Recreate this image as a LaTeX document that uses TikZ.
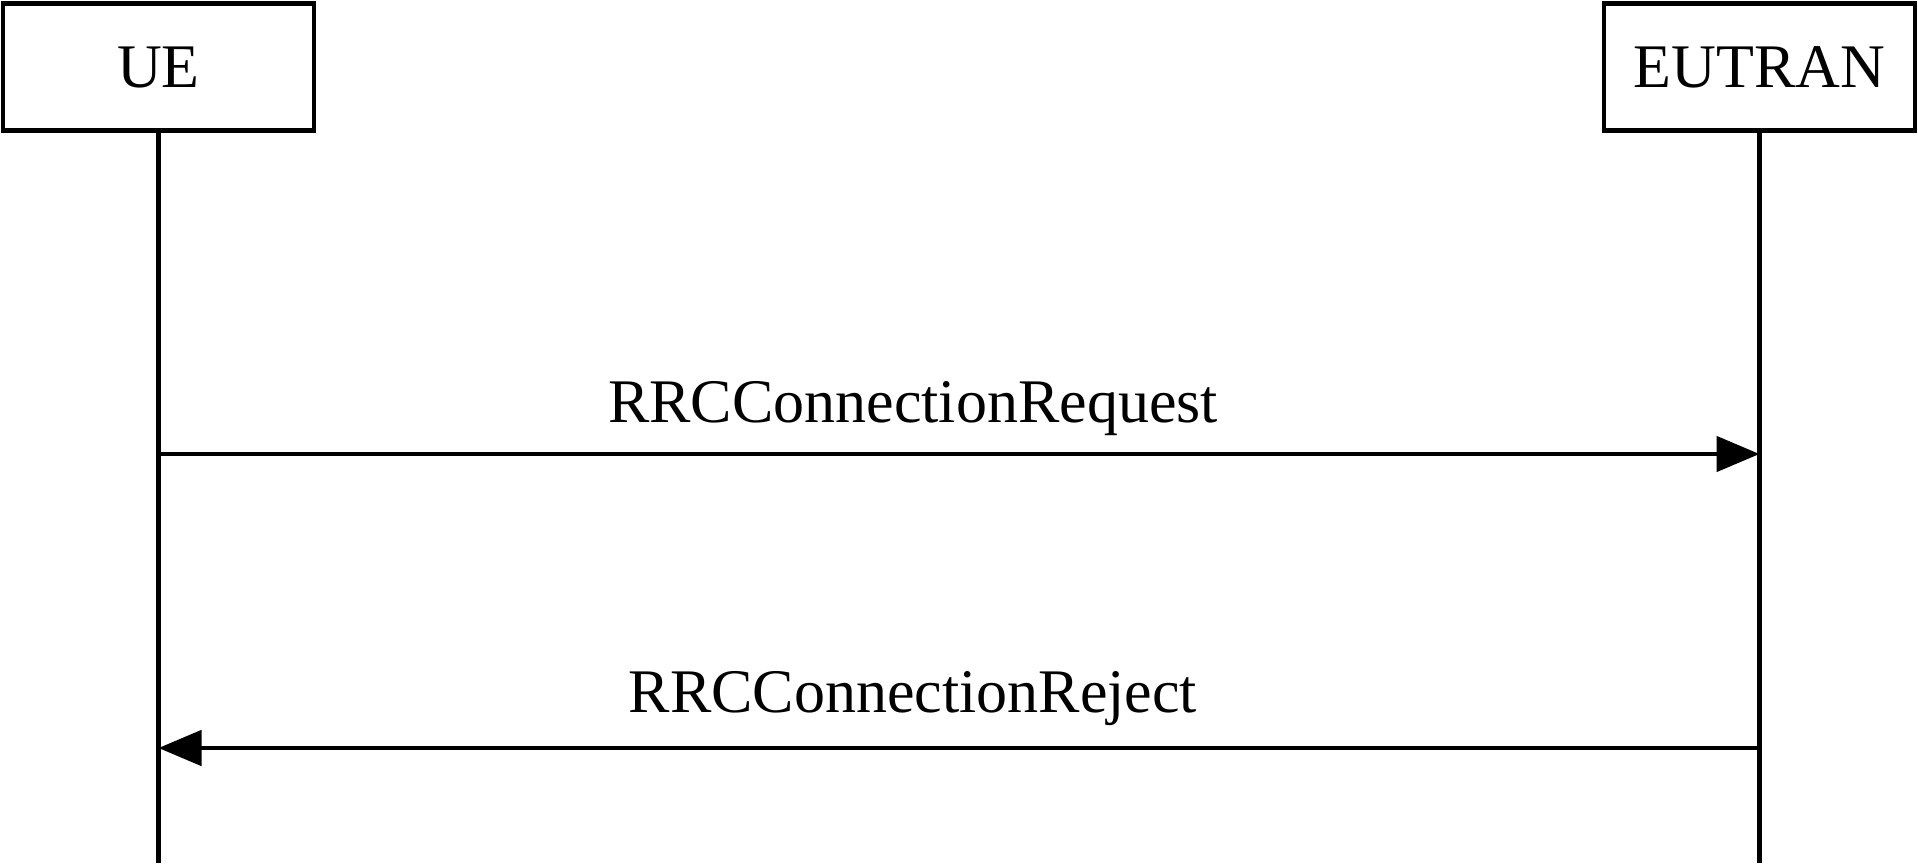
\documentclass[tikz,border=0pt]{standalone}
\usepackage{fontspec}
\setmainfont{Liberation Serif}
\usepackage{tikz}
\usetikzlibrary{
  arrows.meta,
  positioning,
  calc
}

\begin{document}
\begin{tikzpicture}[
  x=1pt, y=1pt,
  font=\fontsize{31}{37}\selectfont,
  entity/.style={draw=black, line width=2.4pt, minimum width=155.5pt, minimum height=63.5pt, inner sep=0pt},
  lifeline/.style={draw=black, line width=2.4pt},
  msg/.style={draw=black, line width=2.4pt, -{Triangle[length=21.5pt, width=17.5pt]}},
  msglabel/.style={anchor=base}
]
\useasboundingbox (0,0) rectangle (959,-431.5);

% entities
\node[entity] (ue) at (79.25,-33.5) {UE};
\node[entity] (eutran) at (879.75,-33.5) {EUTRAN};

% lifelines
\coordinate (ueend) at (ue.south |- 0,-431.5);
\coordinate (eutranend) at (eutran.south |- 0,-431.5);
\draw[lifeline] (ue.south) -- (ueend);
\draw[lifeline] (eutran.south) -- (eutranend);

% --- RRCConnectionRequest: UE -> EUTRAN ---
\coordinate (reqa) at (ue.south |- 0,-227);
\coordinate (reqb) at (eutran.south |- 0,-227);
\draw[msg] (reqa) -- (reqb);
\node[msglabel] (reqlabel) at ($(reqa)!0.5!(reqb)+(-23,16)$) {RRCConnectionRequest};

% --- RRCConnectionReject: EUTRAN -> UE ---
\coordinate (reja) at (eutran.south |- 0,-374);
\coordinate (rejb) at (ue.south |- 0,-374);
\draw[msg] (reja) -- (rejb);
\node[msglabel] (rejlabel) at ($(reja)!0.5!(rejb)+(-23,18)$) {RRCConnectionReject};

\end{tikzpicture}
\end{document}
